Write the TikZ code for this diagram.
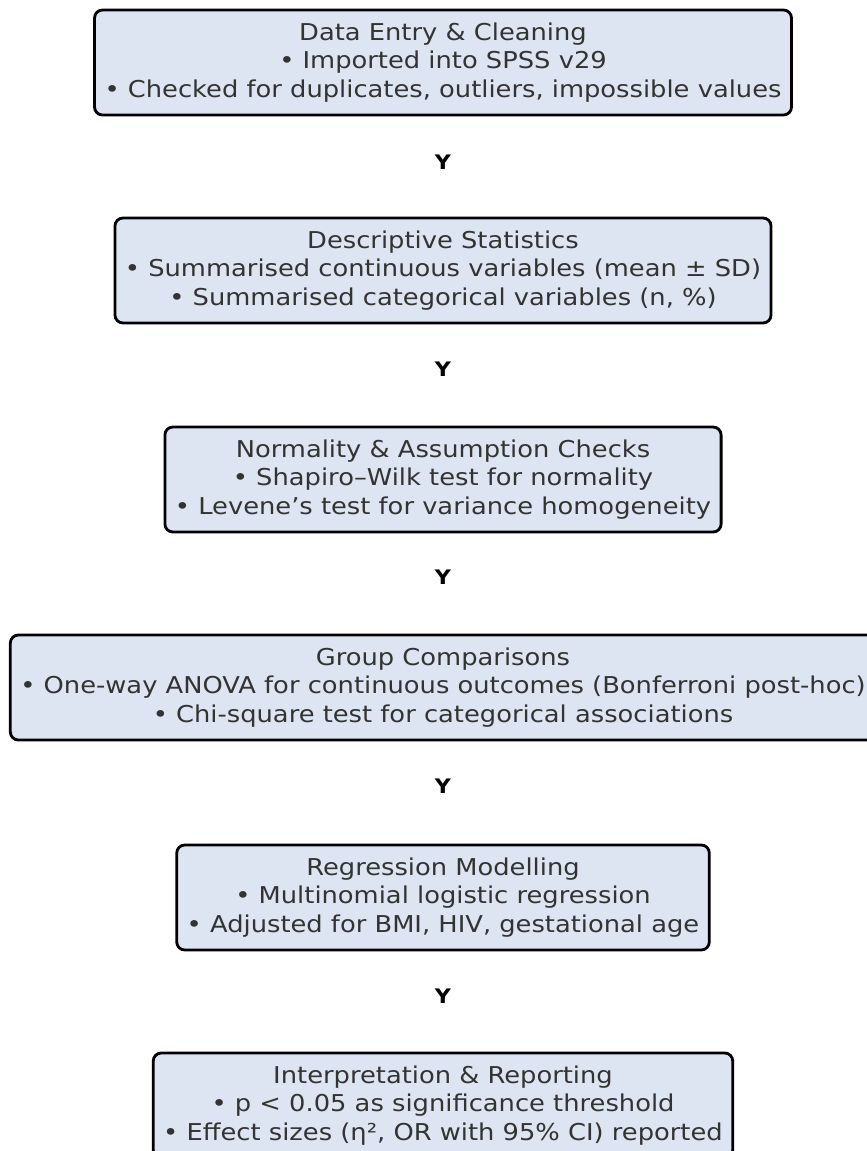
\documentclass[tikz,border=0pt]{standalone}
\usepackage{fontspec}
\setmainfont{DejaVu Sans}[FakeStretch=1.11]
\usetikzlibrary{positioning}

\definecolor{boxfill}{HTML}{DCE5F1}
\definecolor{boxtext}{HTML}{333333}

\begin{document}
\begin{tikzpicture}[x=0.5pt, y=-0.5pt,
  stagebox/.style={draw=black, line width=1.4pt, rounded corners=4pt, fill=boxfill,
    text=boxtext, align=center, minimum height=52.5pt, inner xsep=5pt, inner ysep=0pt,
    font=\fontsize{11.6}{14.3}\selectfont},
  arrowy/.style={font=\fontsize{10}{12}\selectfont\bfseries, text=black, inner sep=0pt}]

  % --- 1. 画像の範囲 ---
  \useasboundingbox (0,0) rectangle (867,1151);

  % --- 2. 各段階のボックス ---
  \node[stagebox] (entry) at (443,62.5)
    {Data Entry \& Cleaning\\ • Imported into SPSS v29\\
     • Checked for duplicates, outliers, impossible values};
  \node[stagebox] (descr) at (443,270.5)
    {Descriptive Statistics\\ • Summarised continuous variables (mean ± SD)\\
     • Summarised categorical variables (n, \%)};
  \node[stagebox] (checks) at (443,479.5)
    {Normality \& Assumption Checks\\ • Shapiro–Wilk test for normality\\
     • Levene’s test for variance homogeneity};
  \node[stagebox] (groups) at (443,687.5)
    {Group Comparisons\\ • One-way ANOVA for continuous outcomes (Bonferroni post-hoc)\\
     • Chi-square test for categorical associations};
  \node[stagebox] (regress) at (443,897.5)
    {Regression Modelling\\ • Multinomial logistic regression\\
     • Adjusted for BMI, HIV, gestational age};
  \node[stagebox] (report) at (443,1105.5)
    {Interpretation \& Reporting\\ • p < 0.05 as significance threshold\\
     • Effect sizes (η², OR with 95\% CI) reported};

  % --- 3. ボックス間の記号 ---
  \path (entry.south) -- (descr.north) node[arrowy, pos=0.46] {Y};
  \path (descr.south) -- (checks.north) node[arrowy, pos=0.44] {Y};
  \path (checks.south) -- (groups.north) node[arrowy, pos=0.44] {Y};
  \path (groups.south) -- (regress.north) node[arrowy, pos=0.44] {Y};
  \path (regress.south) -- (report.north) node[arrowy, pos=0.45] {Y};

\end{tikzpicture}
\end{document}
